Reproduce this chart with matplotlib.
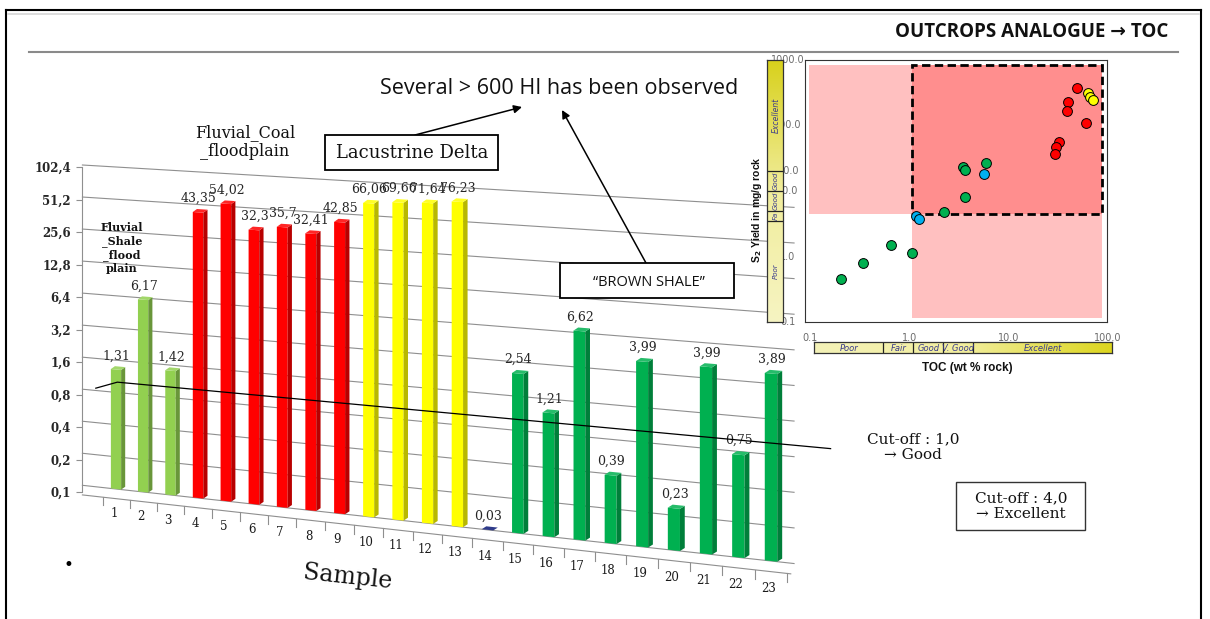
import numpy as np
import matplotlib
matplotlib.use("Agg")
import matplotlib.pyplot as plt
import matplotlib.transforms as mtransforms
from matplotlib.patches import Rectangle, Polygon
from matplotlib.lines import Line2D
from matplotlib.colors import LinearSegmentedColormap, to_rgb

W, H = 1210, 619

# ---------------- data ----------------
samples = list(range(1, 24))
s2_yield = [1.31, 6.17, 1.42, 43.35, 54.02, 32.3, 35.7, 32.41, 42.85,
            66.06, 69.66, 71.64, 76.23, 0.03, 2.54, 1.21, 6.62, 0.39,
            3.99, 0.23, 3.99, 0.75, 3.89]
facies = (["fluvial_shale"] * 3 + ["fluvial_coal"] * 6 + ["lacustrine"] * 4
          + ["unknown"] + ["brown_shale"] * 9)
value_ticks = [0.1, 0.2, 0.4, 0.8, 1.6, 3.2, 6.4, 12.8, 25.6, 51.2, 102.4]
cutoff_good = 1.0

# TOC vs S2 cross-plot
toc_green = [0.19, 0.32, 0.62, 1.0, 2.1, 3.4, 3.3, 3.4, 5.6]
s2_green = [0.45, 0.80, 1.5, 1.12, 4.8, 8.1, 23.5, 21.0, 26.5]
toc_blue = [1.10, 1.19, 5.3]
s2_blue = [4.15, 3.8, 18.0]
toc_red = [46.6, 37.8, 37.0, 57.8, 30.7, 28.5, 28.0]
s2_red = [370, 230, 165, 108, 56.6, 46.5, 36.7]
toc_yellow = [60.0, 62.5, 66.6]
s2_yellow = [317, 275, 245]

s2_ruler_labels = ["Poor", "Fa", "Good", "Good", "Excellent"]
s2_bounds = [0.1, 3.5, 5, 10, 20, 1000]
toc_classes = ["Poor", "Fair", "Good", "V. Good", "Excellent"]
toc_bounds = [0.1, 0.5, 1, 2, 4, 100]
s2_window = (1.0, 83.0, 4.5, 840.0)   # TOC min/max, S2 min/max of the sweet spot

facies_colors = {"fluvial_shale": "#92d050", "fluvial_coal": "#ff0000",
                 "lacustrine": "#ffff00", "unknown": "#2f3b8a",
                 "brown_shale": "#00b050"}

SERIF = "DejaVu Serif"
SANS = ["Open Sans", "DejaVu Sans"]


def shade(color, f):
    r, g, b = to_rgb(color)
    return (r * f, g * f, b * f)


def tint(color, f):
    r, g, b = to_rgb(color)
    return (r + (1 - r) * f, g + (1 - g) * f, b + (1 - b) * f)


def fp(x, y):
    """figure fraction from pixel position measured from the top-left"""
    return x / W, 1 - y / H


class Projective(mtransforms.Transform):
    """Plane homography applied after the axes' own scaling."""
    input_dims = 2
    output_dims = 2
    is_separable = False
    has_inverse = False

    def __init__(self, matrix):
        super().__init__()
        self._m = np.asarray(matrix, float)

    def transform_non_affine(self, values):
        v = np.asarray(values, float).reshape(-1, 2)
        p = np.column_stack([v, np.ones(len(v))]) @ self._m.T
        return p[:, :2] / p[:, 2:3]


def homography(src, dst):
    A, b = [], []
    for (x, y), (X, Y) in zip(src, dst):
        A.append([x, y, 1, 0, 0, 0, -X * x, -X * y]); b.append(X)
        A.append([0, 0, 0, x, y, 1, -Y * x, -Y * y]); b.append(Y)
    h = np.linalg.solve(np.array(A, float), np.array(b, float))
    return np.append(h, 1.0).reshape(3, 3)


fig = plt.figure(figsize=(W / 100, H / 100), dpi=100)
fig.patch.set_facecolor("white")

# ---------------- slide frame ----------------
for xs, ys, c, lw in [([6, 1201], [10, 10], "black", 1.5),
                      ([6, 6], [10, 619], "black", 1.5),
                      ([1201, 1201], [10, 619], "black", 1.5),
                      ([8, 1199], [13.5, 13.5], "#d6d6d6", 1.2),
                      ([29, 1178], [51.5, 51.5], "#8a8a8a", 1.5)]:
    fig.add_artist(Line2D([x / W for x in xs], [1 - y / H for y in ys],
                          color=c, lw=lw, transform=fig.transFigure))

fig.text(*fp(1168, 32), "OUTCROPS ANALOGUE \u2192 TOC", ha="right", va="center",
         fontsize=13.5, fontweight="bold", family=SANS, color="#111111")

# ---------------- perspective column chart ----------------
ax = fig.add_axes([0, 0, 1, 1], zorder=0)
ax.set_autoscale_on(False)
ax.set_yscale("log", base=2)
ax.set_xlim(0, 24)
ax.set_ylim(value_ticks[0], value_ticks[-1])
ax.set_axis_off()

src = (ax.transScale + ax.transLimits).transform(
    [[1, value_ticks[0]], [23, value_ticks[0]],
     [1, value_ticks[-1]], [23, value_ticks[-1]]])
dst = [fp(116, 489), fp(771, 561), fp(116, 167), fp(771, 206)]
dst = [(x * W, y * H) for x, y in dst]
T = ax.transScale + ax.transLimits + Projective(homography(src, dst))

floor = value_ticks[0]
# back-wall gridlines
for v in value_ticks:
    ax.add_line(Line2D([-0.25, 23.7], [v, v], color="#8f8f8f", lw=0.8,
                       transform=T, clip_on=False, zorder=1))
# floor front edge with category ticks
front = floor * 2 ** -0.3
ax.add_line(Line2D([-0.25, 23.6], [front, front], color="#8f8f8f", lw=0.8,
                   transform=T, clip_on=False, zorder=1))
for k in range(24):
    ax.add_line(Line2D([k + 0.5, k + 0.5], [front, floor * 2 ** -0.55],
                       color="#8f8f8f", lw=0.8, transform=T, clip_on=False,
                       zorder=1))
for s in samples:
    ax.text(s - 0.08, floor * 2 ** -0.78, str(s), transform=T, ha="center",
            va="center", fontsize=8.5, family=SERIF, color="#1a1a1a",
            zorder=3)

# 3-D columns: front face from ax.bar, side and top faces from the same values
bw, dx, dl = 0.38, 0.15, 0.1
vals = np.asarray(s2_yield)
tops = np.clip(vals, floor, None)
cols = [facies_colors[f] for f in facies]
bars = ax.bar(samples, tops - floor, bottom=floor, width=bw, color=cols,
              linewidth=0, zorder=2)
for rect, s, top, c in zip(bars, samples, tops, cols):
    rect.set_transform(T)
    rect.set_clip_on(False)
    r = s + bw / 2
    l = s - bw / 2
    up = 2 ** dl
    side = Polygon([(r, floor), (r + dx, floor * up), (r + dx, top * up),
                    (r, top)], closed=True, facecolor=shade(c, 0.72),
                   edgecolor="none", transform=T, clip_on=False, zorder=2)
    topf = Polygon([(l, top), (r, top), (r + dx, top * up), (l + dx, top * up)],
                   closed=True, facecolor=tint(c, 0.15) if top > floor else c,
                   edgecolor="none", transform=T, clip_on=False, zorder=2.1)
    ax.add_patch(side)
    ax.add_patch(topf)

lab_tr = T + mtransforms.Affine2D().translate(0, 4)
for s, v, top in zip(samples, s2_yield, tops):
    ax.text(s + 0.02, top * 2 ** dl, f"{v:g}".replace(".", ","),
            transform=lab_tr, ha="center", va="bottom", fontsize=9,
            family=SERIF, color="#262626", zorder=3)

# cut-off line at S2 = 1.0
ax.add_line(Line2D([0.25, 1.05, 24.8],
                   [cutoff_good * 2 ** -0.25, cutoff_good, cutoff_good],
                   color="black", lw=0.9, transform=T, clip_on=False, zorder=4))

# value axis
yax = fig.add_axes([82 / W, 1 - 492 / H, 0.0005, 325 / H], zorder=1)
yax.set_yscale("log", base=2)
yax.set_ylim(value_ticks[0], value_ticks[-1])
yax.yaxis.set_minor_locator(matplotlib.ticker.NullLocator())
yax.set_yticks(value_ticks, labels=[f"{v:g}".replace(".", ",") for v in value_ticks],
               fontsize=8.5, fontweight="bold", family=SERIF, color="#262626")
yax.tick_params(axis="y", length=4, width=0.8, color="#8f8f8f", pad=4)
yax.set_xticks([])
for sp in ["top", "right", "bottom"]:
    yax.spines[sp].set_visible(False)
yax.spines["left"].set_color("#8f8f8f")
yax.spines["left"].set_linewidth(0.8)
yax.patch.set_visible(False)

fig.text(*fp(348, 577), "Sample", rotation=-6, ha="center", va="center",
         fontsize=17, family=SERIF, color="#111111")
fig.text(*fp(68, 565), "\u2022", ha="center", va="center", fontsize=12,
         color="black")

fig.text(*fp(122, 248), "Fluvial\n_Shale\n_flood\nplain", ha="center",
         va="center", fontsize=8, fontweight="bold", family=SERIF,
         linespacing=1.25, color="#111111")
fig.text(*fp(245, 142), "Fluvial_Coal\n_floodplain", ha="center", va="center",
         fontsize=11.5, family=SERIF, linespacing=1.15, color="#111111")

# boxed notes
fig.add_artist(Rectangle(fp(325, 170), 173 / W, 35 / H, transform=fig.transFigure,
                         facecolor="white", edgecolor="black", lw=1.3))
fig.text(*fp(412, 153), "Lacustrine Delta", ha="center", va="center",
         fontsize=13, family=SERIF, color="#111111")
fig.add_artist(Rectangle(fp(560, 298), 174 / W, 35 / H, transform=fig.transFigure,
                         facecolor="white", edgecolor="black", lw=1.3))
fig.text(*fp(649, 282), "\u201cBROWN SHALE\u201d", ha="center", va="center",
         fontsize=10.5, family=SANS, color="#111111")

fig.text(*fp(559, 88), "Several > 600 HI has been observed", ha="center",
         va="center", fontsize=15.5, family=SANS, color="#111111")
arrow_kw = dict(arrowstyle="-|>", color="black", lw=1.1, mutation_scale=12,
                shrinkA=0, shrinkB=0)
ax.annotate("", xy=(522, H - 107), xycoords="figure pixels",
            xytext=(415, H - 135), textcoords="figure pixels",
            arrowprops=arrow_kw)
ax.annotate("", xy=(562, H - 110), xycoords="figure pixels",
            xytext=(646, H - 263), textcoords="figure pixels",
            arrowprops=arrow_kw)

fig.text(*fp(913, 447), "Cut-off : 1,0\n\u2192 Good", ha="center", va="center",
         fontsize=11, family=SERIF, linespacing=1.2, color="#111111")
fig.add_artist(Rectangle(fp(956, 530), 129 / W, 48 / H, transform=fig.transFigure,
                         facecolor="white", edgecolor="#333333", lw=1.0))
fig.text(*fp(1021, 506), "Cut-off : 4,0\n\u2192 Excellent", ha="center",
         va="center", fontsize=11, family=SERIF, linespacing=1.2,
         color="#111111")

# ---------------- TOC / S2 cross-plot ----------------
sax = fig.add_axes([805 / W, 1 - 322 / H, 302 / W, 262 / H], zorder=4)
sax.set_xscale("log")
sax.set_yscale("log")
sax.set_xlim(0.083, 93.3)
sax.set_ylim(0.1, 1000)
sax.set_xticks([]); sax.set_yticks([])
sax.minorticks_off()
for sp in sax.spines.values():
    sp.set_linewidth(0.8)
    sp.set_color("#333333")
t0, t1, y0, y1 = s2_window
light, dark = "#ffc0c0", "#ff8e8e"
sax.add_patch(Rectangle((0.091, y0), t0 - 0.091, y1 - y0, facecolor=light, lw=0))
sax.add_patch(Rectangle((t0, 0.115), t1 - t0, y1 - 0.115, facecolor=light, lw=0))
sax.add_patch(Rectangle((t0, y0), t1 - t0, y1 - y0, facecolor=dark, lw=0))
sax.add_patch(Rectangle((t0, y0), t1 - t0, y1 - y0, fill=False, edgecolor="black",
                        lw=2.0, linestyle=(0, (3, 1.6))))
for tx, sy, c in [(toc_green, s2_green, "#00b050"), (toc_blue, s2_blue, "#00b0f0"),
                  (toc_red, s2_red, "#ff0000"), (toc_yellow, s2_yellow, "#ffff00")]:
    sax.scatter(tx, sy, s=50, c=c, edgecolors="black", linewidths=0.7, zorder=3)

# S2 ruler value labels (partly hidden behind the ruler and the plot frame)
lbl_tr = mtransforms.blended_transform_factory(fig.transFigure, sax.transData)
for v, txt in [(1000, "1000.0"), (100, "100.0"), (20, "20.0"), (10, "10.0"),
               (1, "1.0"), (0.1, "0.1")]:
    ax.text(788 / W, v, txt, transform=lbl_tr, ha="center", va="center",
            fontsize=7, color="#6b6b6b", family="DejaVu Sans", zorder=1)

# S2 ruler
ruler_cmap_v = LinearSegmentedColormap.from_list(
    "rv", ["#f6f4c2", "#f1ed9c", "#d8d11c"])
rax = fig.add_axes([767 / W, 1 - 322 / H, 16 / W, 262 / H], zorder=4)
rax.set_yscale("log")
rax.set_ylim(0.1, 1000)
rax.set_xlim(0, 1)
rax.imshow(np.linspace(0, 1, 256).reshape(-1, 1), cmap=ruler_cmap_v,
           extent=[0, 1, 0, 1], transform=rax.transAxes, origin="lower",
           aspect="auto")
rax.set_xticks([]); rax.set_yticks([]); rax.minorticks_off()
for sp in rax.spines.values():
    sp.set_linewidth(0.9)
    sp.set_color("#333333")
for b in s2_bounds[1:-1]:
    rax.axhline(b, color="#222222", lw=0.9)
ytr = rax.get_yaxis_transform()
for name, lo, hi in zip(s2_ruler_labels, s2_bounds[:-1], s2_bounds[1:]):
    rax.text(0.55, np.sqrt(lo * hi), name, transform=ytr, rotation=90,
             ha="center", va="center", fontsize=5 if len(name) < 5 else 5.5,
             style="italic", color="#3a3a8c", family="DejaVu Sans")

fig.text(*fp(757, 210), r"S$_\mathbf{2}$ Yield in mg/g rock", rotation=90,
         ha="center", va="center", fontsize=7.5, fontweight="bold",
         family="Liberation Sans", color="#111111")

# TOC ruler
ruler_cmap_h = LinearSegmentedColormap.from_list(
    "rh", ["#f4f2b8", "#f2ee9e", "#dcd51e"])
xax = fig.add_axes([814 / W, 1 - 353 / H, 298 / W, 11 / H], zorder=4)
xax.set_xscale("log")
xax.set_xlim(0.1, 100)
xax.set_ylim(0, 1)
xax.imshow(np.linspace(0, 1, 256).reshape(1, -1), cmap=ruler_cmap_h,
           extent=[0, 1, 0, 1], transform=xax.transAxes, aspect="auto")
xax.set_xticks([]); xax.set_yticks([]); xax.minorticks_off()
for sp in xax.spines.values():
    sp.set_linewidth(0.9)
    sp.set_color("#333333")
for b in toc_bounds[1:-1]:
    xax.axvline(b, color="#222222", lw=0.9)
xtr = xax.get_xaxis_transform()
for name, lo, hi in zip(toc_classes, toc_bounds[:-1], toc_bounds[1:]):
    xax.text(np.sqrt(lo * hi), 0.45, name, transform=xtr, ha="center",
             va="center", fontsize=6, style="italic", color="#3a3a8c",
             family="DejaVu Sans", clip_on=False)

tick_tr = mtransforms.blended_transform_factory(xax.transData, fig.transFigure) \
    + mtransforms.Affine2D().translate(-4, 0)
for v, txt in [(0.1, "0.1"), (1, "1.0"), (10, "10.0"), (100, "100.0")]:
    ax.text(v, 1 - 338 / H, txt, transform=tick_tr, ha="center", va="center",
            fontsize=7, color="#6b6b6b", family="DejaVu Sans", zorder=1)

fig.text(*fp(967, 368), "TOC (wt % rock)", ha="center", va="center",
         fontsize=8.5, fontweight="bold", family="Liberation Sans",
         color="#111111")

fig.savefig("out.png", dpi=100, facecolor="white")
